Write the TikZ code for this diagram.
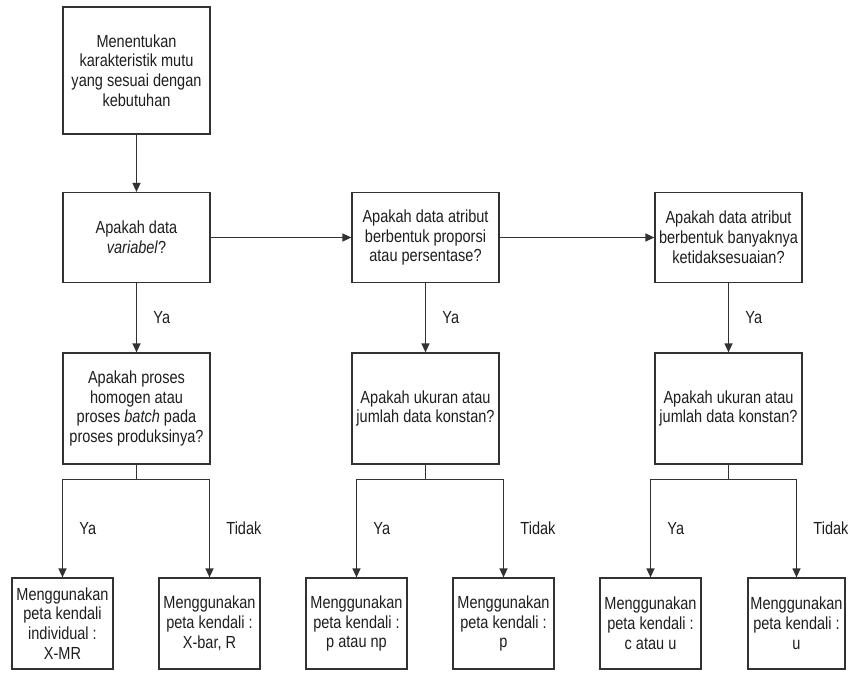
\documentclass[tikz,border=0pt]{standalone}
\usepackage{fontspec}
\setmainfont[FakeStretch=0.83]{Liberation Sans}
\usetikzlibrary{arrows.meta}

\definecolor{lineGray}{RGB}{50,50,50}
\definecolor{textGray}{RGB}{30,30,30}

\begin{document}
\begin{tikzpicture}[x=1pt,y=-1pt,
    box/.style={draw=lineGray, line width=1.2pt, align=center, text=textGray,
        inner sep=0pt, font=\fontsize{17.5}{19.8}\selectfont},
    bigbox/.style={box, minimum width=147pt},
    smallbox/.style={box, minimum width=101pt, minimum height=91pt},
    flow/.style={draw=lineGray, line width=1.2pt, -{Triangle[length=9pt,width=8pt]}},
    lbl/.style={right, xshift=13pt, text=textGray, font=\fontsize{17.5}{19.8}\selectfont}]

\useasboundingbox (0,0) rectangle (854,672);

% The first column
\node[bigbox, minimum height=127pt] (nKarakter) at (136.5,70.5)
    {Menentukan\\karakteristik mutu\\yang sesuai dengan\\kebutuhan};
\node[bigbox, minimum height=90pt] (nVar) at (136.5,237.5)
    {Apakah data\\\textit{variabel}?};
\node[bigbox, minimum height=111pt] (nHomogen) at (136.5,408.5)
    {Apakah proses\\homogen atau\\proses \textit{batch} pada\\proses produksinya?};

% The second and third column
\node[bigbox, minimum height=90pt] (nProporsi) at (425.5,237.5)
    {Apakah data atribut\\berbentuk proporsi\\atau persentase?};
\node[bigbox, minimum height=111pt] (nKonstanP) at (425.5,408.5)
    {Apakah ukuran atau\\jumlah data konstan?};
\node[bigbox, minimum height=90pt] (nBanyak) at (728.5,237.5)
    {Apakah data atribut\\berbentuk banyaknya\\ketidaksesuaian?};
\node[bigbox, minimum height=111pt] (nKonstanU) at (728.5,408.5)
    {Apakah ukuran atau\\jumlah data konstan?};

% The charts
\node[smallbox] (nXMR) at (62.5,623.5)
    {Menggunakan\\peta kendali\\individual :\\X-MR};
\node[smallbox] (nXbar) at (209.5,623.5)
    {Menggunakan\\peta kendali :\\X-bar, R};
\node[smallbox] (nNP) at (356.5,623.5)
    {Menggunakan\\peta kendali :\\p atau np};
\node[smallbox] (nP) at (503.5,623.5)
    {Menggunakan\\peta kendali :\\p};
\node[smallbox] (nCU) at (650.5,623.5)
    {Menggunakan\\peta kendali :\\c atau u};
\node[smallbox, minimum width=97pt] (nU) at (796.5,623.5)
    {Menggunakan\\peta kendali :\\u};

% Connectors
\draw[flow] (nKarakter) -- (nVar);
\draw[flow] (nVar) -- (nProporsi);
\draw[flow] (nProporsi) -- (nBanyak);
\draw[flow] (nVar) -- node[lbl] {Ya} (nHomogen);
\draw[flow] (nProporsi) -- node[lbl] {Ya} (nKonstanP);
\draw[flow] (nBanyak) -- node[lbl] {Ya} (nKonstanU);

\foreach \from/\yes/\no in {nHomogen/nXMR/nXbar, nKonstanP/nNP/nP, nKonstanU/nCU/nU}{
    \coordinate (\from-split) at ([yshift=-15pt]\from.south);
    \draw[draw=lineGray, line width=1.2pt] (\from.south) -- (\from-split);
    \draw[flow] (\from-split) -| node[lbl, pos=0.75] {Ya} (\yes.north);
    \draw[flow] (\from-split) -| node[lbl, pos=0.75] {Tidak} (\no.north);
}

\end{tikzpicture}
\end{document}
